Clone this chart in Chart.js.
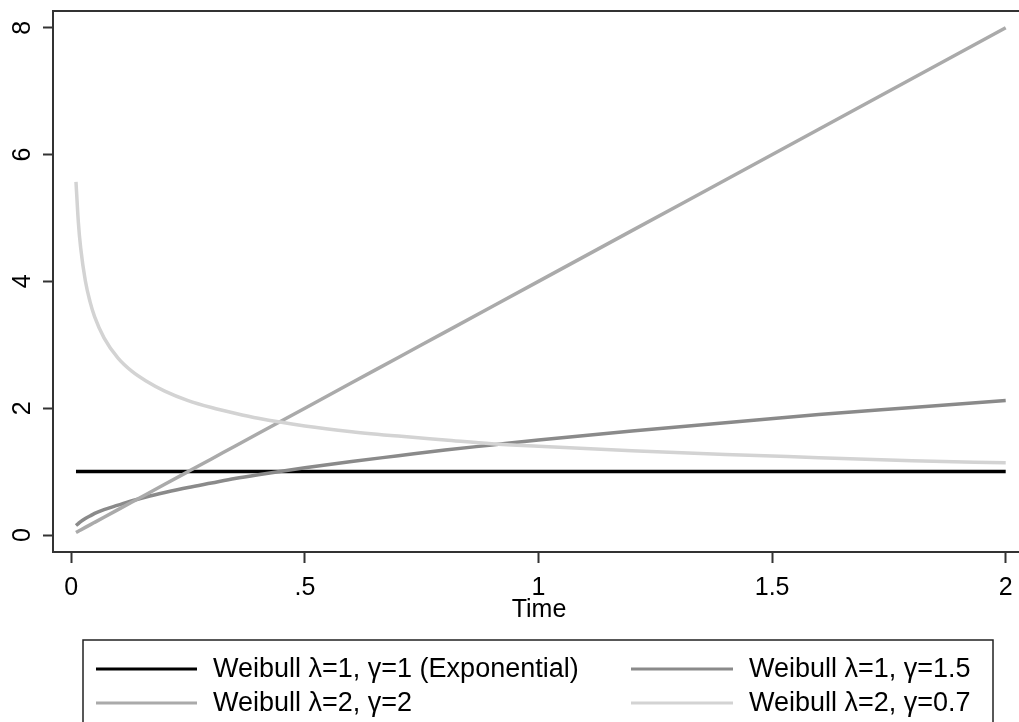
<!DOCTYPE html>
<html>
<head>
<meta charset="utf-8">
<script src="https://cdn.jsdelivr.net/npm/chart.js@4/dist/chart.umd.min.js"></script>
<style>
  html, body { margin: 0; padding: 0; background: #fff; overflow: hidden; width: 1019px; height: 722px; }
  #wrap { position: absolute; left: 0; top: 0; width: 1030px; height: 740px; }
  #c { display: block; width: 1030px; height: 740px; }
</style>
</head>
<body>
<div id="wrap"><canvas id="c" width="1030" height="740"></canvas></div>
<script>
// Hazard functions h(t) for several Weibull models, evaluated on a time grid
const timeGrid    = [0.01, 0.015, 0.02, 0.03, 0.04, 0.05, 0.07, 0.1, 0.13, 0.16, 0.2, 0.25, 0.3, 0.35, 0.4, 0.5, 0.6, 0.7, 0.8, 0.9, 1.0, 1.2, 1.4, 1.6, 1.8, 2.0];
const hazardExp   = [1, 1, 1, 1, 1, 1, 1, 1, 1, 1, 1, 1, 1, 1, 1, 1, 1, 1, 1, 1, 1, 1, 1, 1, 1, 1];
const hazardL1G15 = [0.15, 0.18, 0.21, 0.26, 0.30, 0.34, 0.40, 0.47, 0.54, 0.60, 0.67, 0.75, 0.82, 0.89, 0.95, 1.06, 1.16, 1.25, 1.34, 1.42, 1.50, 1.64, 1.77, 1.90, 2.01, 2.12];
const hazardL2G2  = [0.04, 0.06, 0.08, 0.12, 0.16, 0.20, 0.28, 0.40, 0.52, 0.64, 0.80, 1.00, 1.20, 1.40, 1.60, 2.00, 2.40, 2.80, 3.20, 3.60, 4.00, 4.80, 5.60, 6.40, 7.20, 8.00];
const hazardL2G07 = [5.57, 4.94, 4.53, 4.01, 3.68, 3.44, 3.11, 2.79, 2.58, 2.43, 2.27, 2.12, 2.01, 1.92, 1.84, 1.72, 1.63, 1.56, 1.50, 1.44, 1.40, 1.33, 1.27, 1.22, 1.17, 1.14];

const seriesLabels = [
  'Weibull \u03bb=1, \u03b3=1 (Exponential)',
  'Weibull \u03bb=1, \u03b3=1.5',
  'Weibull \u03bb=2, \u03b3=2',
  'Weibull \u03bb=2, \u03b3=0.7'
];
const seriesColors = ['#000000', '#8a8a8a', '#aaaaaa', '#d3d3d3'];

const xTicks = [0, 0.5, 1, 1.5, 2];
const xTickLabels = ['0', '.5', '1', '1.5', '2'];
const yTicks = [0, 2, 4, 6, 8];
const yTickLabels = ['0', '2', '4', '6', '8'];

const FONT = '"Liberation Sans", Arial, Helvetica, sans-serif';
const AXIS_COLOR = '#333333';

function toPoints(ys) {
  return timeGrid.map((t, i) => ({ x: t, y: ys[i] }));
}

const seriesValues = [hazardExp, hazardL1G15, hazardL2G2, hazardL2G07];
const datasets = seriesValues.map((vals, i) => ({
  label: seriesLabels[i],
  data: toPoints(vals),
  borderColor: seriesColors[i],
  backgroundColor: seriesColors[i],
  borderWidth: 3.5,
  pointRadius: 0,
  fill: false,
  cubicInterpolationMode: 'monotone',
  order: seriesValues.length - i
}));

// Plot frame (left, top, bottom), rotated y labels and the boxed two-column legend
const decorations = {
  id: 'decorations',
  afterDraw(chart) {
    const ctx = chart.ctx;
    const a = chart.chartArea;
    ctx.save();
    ctx.strokeStyle = AXIS_COLOR;
    ctx.lineWidth = 2;
    ctx.beginPath();
    ctx.moveTo(chart.width, a.top);
    ctx.lineTo(a.left, a.top);
    ctx.lineTo(a.left, a.bottom);
    ctx.lineTo(chart.width, a.bottom);
    ctx.stroke();

    // y tick labels, rotated a quarter turn
    const ys = chart.scales.y;
    ctx.fillStyle = '#000';
    ctx.font = '25px ' + FONT;
    ctx.textAlign = 'center';
    ctx.textBaseline = 'middle';
    yTicks.forEach((v, i) => {
      const py = ys.getPixelForValue(v);
      ctx.save();
      ctx.translate(23, py);
      ctx.rotate(-Math.PI / 2);
      ctx.fillText(yTickLabels[i], 0, 0);
      ctx.restore();
    });

    // legend
    const box = { left: 83, top: 640, right: 993, bottom: 738 };
    ctx.lineWidth = 1.5;
    ctx.strokeStyle = '#222';
    ctx.strokeRect(box.left, box.top, box.right - box.left, box.bottom - box.top);
    const cols = [{ k0: 96, k1: 197, tx: 213 }, { k0: 631, k1: 733, tx: 749 }];
    const rows = [669, 703];
    ctx.font = '27px ' + FONT;
    ctx.textAlign = 'left';
    chart.data.datasets.forEach((ds, i) => {
      const c = cols[i % 2];
      const y = rows[Math.floor(i / 2)];
      ctx.strokeStyle = ds.borderColor;
      ctx.lineWidth = 3;
      ctx.beginPath();
      ctx.moveTo(c.k0, y);
      ctx.lineTo(c.k1, y);
      ctx.stroke();
      ctx.fillStyle = '#000';
      ctx.fillText(ds.label, c.tx, y + 1);
    });
    ctx.restore();
  }
};

new Chart(document.getElementById('c'), {
  type: 'line',
  data: { datasets },
  plugins: [decorations],
  options: {
    responsive: false,
    animation: false,
    layout: { padding: { left: 0, top: 11, right: 5, bottom: 108 } },
    plugins: { legend: { display: false }, tooltip: { enabled: false } },
    scales: {
      x: {
        type: 'linear',
        min: -0.0392,
        max: 2.0413,
        afterBuildTicks: s => { s.ticks = xTicks.map(v => ({ value: v })); },
        afterFit: s => { s.height = 80; s.paddingLeft = 0; s.paddingRight = 0; },
        border: { display: false },
        grid: { drawOnChartArea: false, drawTicks: true, tickLength: 11, tickWidth: 2, tickColor: AXIS_COLOR },
        ticks: {
          padding: 10,
          maxRotation: 0,
          autoSkip: false,
          color: '#000',
          font: { family: FONT, size: 25 },
          callback: v => { const k = xTicks.indexOf(v); return k >= 0 ? xTickLabels[k] : ''; }
        },
        title: {
          display: true,
          text: 'Time',
          color: '#000',
          font: { family: FONT, size: 25 },
          padding: { top: 0, bottom: 7 }
        }
      },
      y: {
        type: 'linear',
        min: -0.268,
        max: 8.264,
        afterBuildTicks: s => { s.ticks = yTicks.map(v => ({ value: v })); },
        afterFit: s => { s.width = 53; s.paddingTop = 0; s.paddingBottom = 0; },
        border: { display: false },
        grid: { drawOnChartArea: false, drawTicks: true, tickLength: 10, tickWidth: 2, tickColor: AXIS_COLOR },
        ticks: { color: 'rgba(0,0,0,0)', font: { family: FONT, size: 25 }, padding: 0 }
      }
    }
  }
});
</script>
</body>
</html>
